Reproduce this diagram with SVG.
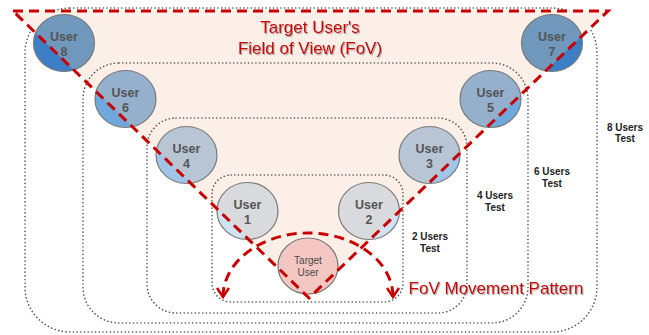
<svg xmlns="http://www.w3.org/2000/svg" width="649" height="335" viewBox="0 0 649 335">
<defs>
<style>
.box{fill:none;stroke:#555;stroke-width:1.6;stroke-dasharray:0.1 3.6;stroke-linecap:round}
.lbl{font-family:"Liberation Sans",Arial,sans-serif;font-size:10px;font-weight:bold;fill:#222;text-anchor:middle}
.node .ring{fill:none;stroke:#7a7a7a;stroke-width:1.2}
.node .in{clip-path:url(#fovclip)}
.ut{font-family:"Liberation Sans",Arial,sans-serif;font-size:12.5px;font-weight:bold;fill:#555;text-anchor:middle}
.tt{font-family:"Liberation Sans",Arial,sans-serif;font-size:10px;fill:#4a4a4a;text-anchor:middle}
.red{font-family:"Liberation Sans",Arial,sans-serif;font-size:17px;fill:#cc0000;text-anchor:middle}
.dash{fill:none;stroke:#c80000;stroke-width:3;stroke-dasharray:10 6}
.o87{fill:#3d7fc6}.i87{fill:#7097bc}
.o65{fill:#6fa8dc}.i65{fill:#94b0cd}
.o43{fill:#9fc5e8}.i43{fill:#b7c5d5}
.o21{fill:#cfe2f3}.i21{fill:#d9dadd}
.ct{fill:#f4c7c3}
</style>
<clipPath id="fovclip"><polygon points="13,11 608,11 309,298"/></clipPath>
<filter id="sh" x="-10%" y="-30%" width="120%" height="160%">
<feDropShadow dx="1" dy="1.2" stdDeviation="0.7" flood-color="#777" flood-opacity="0.6"/>
</filter>
<marker id="chev" viewBox="0 0 12 14" refX="10" refY="7" markerWidth="12" markerHeight="14" markerUnits="userSpaceOnUse" orient="auto-start-reverse">
<path d="M1,1 L10,7 L1,13" fill="none" stroke="#c80000" stroke-width="2.5"/>
</marker>
</defs>

<g id="groups">
<rect id="test8" class="box" x="25" y="8" width="572" height="324" rx="45" ry="45"/>
<polygon id="fov-area" points="13,11 608,11 309,298" fill="#fcefe7"/>
<rect id="test6" class="box" x="83" y="63" width="445" height="260" rx="36" ry="36"/>
<rect id="test4" class="box" x="147" y="118" width="320" height="195" rx="29" ry="29"/>
<rect id="test2" class="box" x="212" y="175" width="191" height="127" rx="19" ry="19"/>
<text class="lbl" x="625" y="131">8 Users<tspan x="625" y="142">Test</tspan></text>
<text class="lbl" x="552" y="175">6 Users<tspan x="552" y="187">Test</tspan></text>
<text class="lbl" x="495" y="199">4 Users<tspan x="495" y="211">Test</tspan></text>
<text class="lbl" x="430" y="240">2 Users<tspan x="430" y="252">Test</tspan></text>
</g>

<g id="user8" class="node"><ellipse class="o87" cx="64" cy="43" rx="30.5" ry="28.5"/><ellipse class="in i87" cx="64" cy="43" rx="30.5" ry="28.5"/><ellipse class="ring" cx="64" cy="43" rx="30.5" ry="28.5"/><text class="ut" x="64" y="41">User</text><text class="ut" x="64" y="55.5">8</text></g>
<g id="user7" class="node"><ellipse class="o87" cx="552" cy="43" rx="30.5" ry="28.5"/><ellipse class="in i87" cx="552" cy="43" rx="30.5" ry="28.5"/><ellipse class="ring" cx="552" cy="43" rx="30.5" ry="28.5"/><text class="ut" x="552" y="41">User</text><text class="ut" x="552" y="55.5">7</text></g>
<g id="user6" class="node"><ellipse class="o65" cx="125.5" cy="99" rx="30.5" ry="28.5"/><ellipse class="in i65" cx="125.5" cy="99" rx="30.5" ry="28.5"/><ellipse class="ring" cx="125.5" cy="99" rx="30.5" ry="28.5"/><text class="ut" x="125.5" y="97">User</text><text class="ut" x="125.5" y="111.5">6</text></g>
<g id="user5" class="node"><ellipse class="o65" cx="490.5" cy="99" rx="30.5" ry="28.5"/><ellipse class="in i65" cx="490.5" cy="99" rx="30.5" ry="28.5"/><ellipse class="ring" cx="490.5" cy="99" rx="30.5" ry="28.5"/><text class="ut" x="490.5" y="97">User</text><text class="ut" x="490.5" y="111.5">5</text></g>
<g id="user4" class="node"><ellipse class="o43" cx="186.5" cy="155" rx="30.5" ry="28.5"/><ellipse class="in i43" cx="186.5" cy="155" rx="30.5" ry="28.5"/><ellipse class="ring" cx="186.5" cy="155" rx="30.5" ry="28.5"/><text class="ut" x="186.5" y="153">User</text><text class="ut" x="186.5" y="167.5">4</text></g>
<g id="user3" class="node"><ellipse class="o43" cx="429.5" cy="155" rx="30.5" ry="28.5"/><ellipse class="in i43" cx="429.5" cy="155" rx="30.5" ry="28.5"/><ellipse class="ring" cx="429.5" cy="155" rx="30.5" ry="28.5"/><text class="ut" x="429.5" y="153">User</text><text class="ut" x="429.5" y="167.5">3</text></g>
<g id="user1" class="node"><ellipse class="o21" cx="247.5" cy="211" rx="30.5" ry="28.5"/><ellipse class="in i21" cx="247.5" cy="211" rx="30.5" ry="28.5"/><ellipse class="ring" cx="247.5" cy="211" rx="30.5" ry="28.5"/><text class="ut" x="247.5" y="209">User</text><text class="ut" x="247.5" y="223.5">1</text></g>
<g id="user2" class="node"><ellipse class="o21" cx="369" cy="211" rx="30.5" ry="28.5"/><ellipse class="in i21" cx="369" cy="211" rx="30.5" ry="28.5"/><ellipse class="ring" cx="369" cy="211" rx="30.5" ry="28.5"/><text class="ut" x="369" y="209">User</text><text class="ut" x="369" y="223.5">2</text></g>
<g id="target" class="node"><ellipse class="ct" cx="308" cy="266" rx="30" ry="28"/><ellipse class="ring" cx="308" cy="266" rx="30" ry="28"/><text class="tt" x="308" y="264">Target</text><text class="tt" x="308" y="276">User</text></g>

<g id="fov">
<polygon class="dash" points="13,11 608,11 309,298"/>
<text class="red" x="310" y="33" filter="url(#sh)">Target User's</text>
<text class="red" x="310" y="54" filter="url(#sh)">Field of View (FoV)</text>
</g>

<g id="connectors">
<path class="dash" d="M223,297 A85,64 0 0 1 393,297" marker-start="url(#chev)" marker-end="url(#chev)"/>
</g>
<text class="red" x="496" y="294" filter="url(#sh)">FoV Movement Pattern</text>
</svg>
